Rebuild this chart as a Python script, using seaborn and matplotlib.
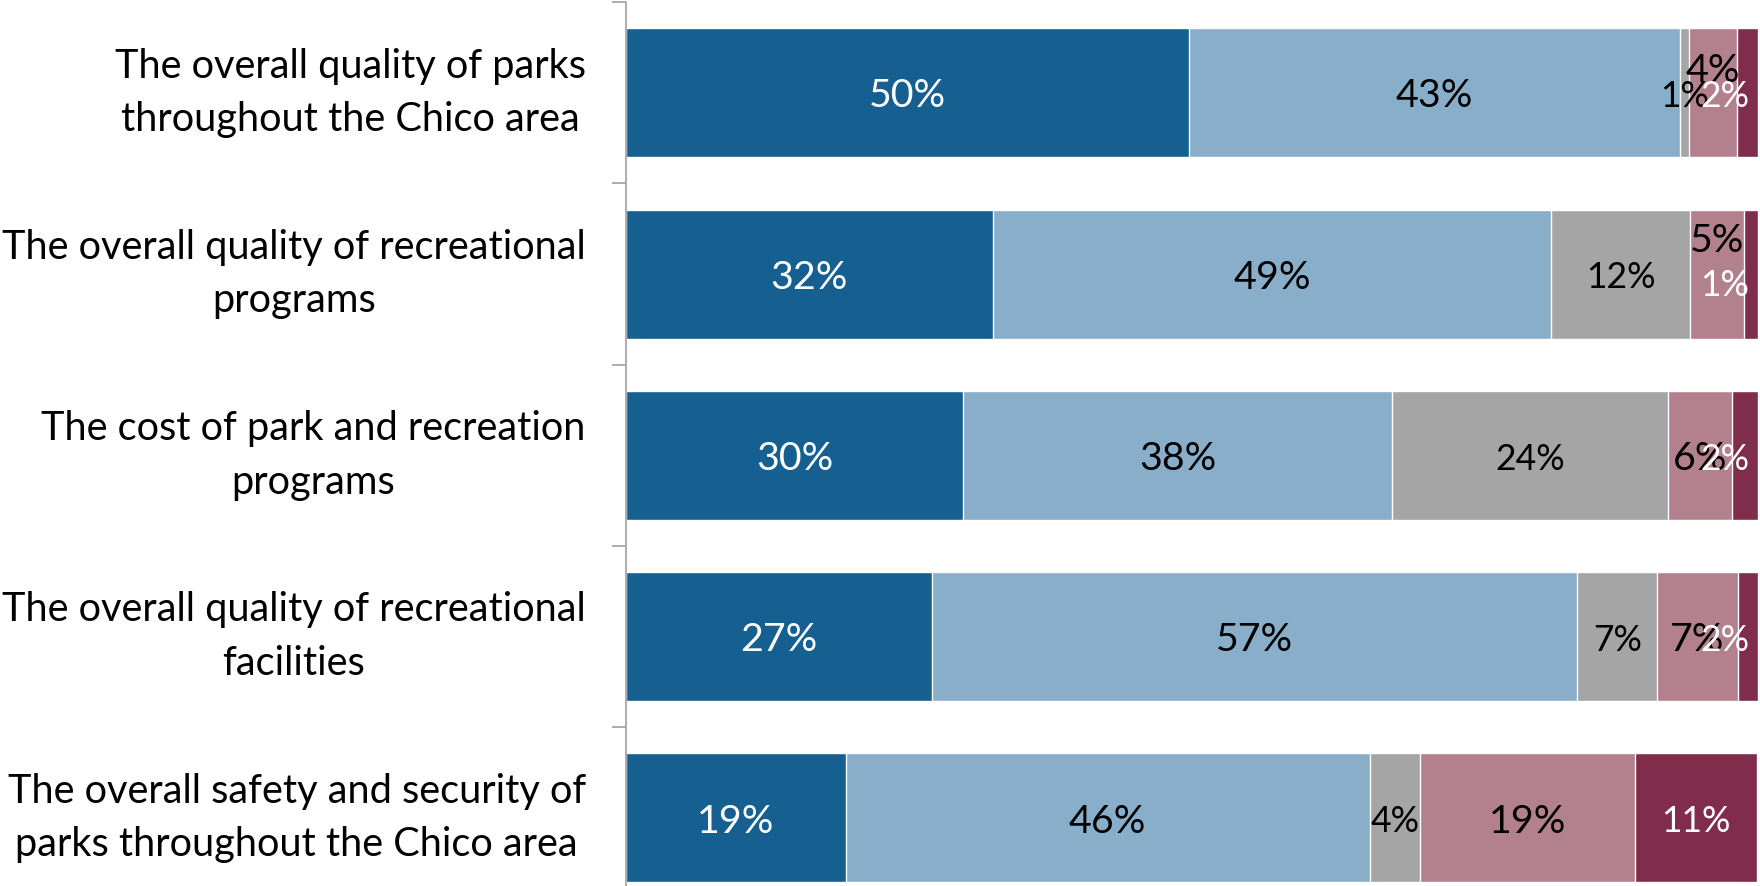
# Satisfaction with parks & recreation - 100% stacked horizontal bars

import numpy as np
import pandas as pd
import matplotlib
matplotlib.use("Agg")
import matplotlib.pyplot as plt
import seaborn as sns

# ==========================================
# DATA
# ==========================================

categories = [
    "The overall quality of parks\nthroughout the Chico area",
    "The overall quality of recreational\nprograms",
    "The cost of park and recreation\nprograms",
    "The overall quality of recreational\nfacilities",
    "The overall safety and security of\nparks throughout the Chico area",
]

very_satisfied = [49.7, 32.4, 29.8, 27.0, 19.4]
satisfied = [43.4, 49.3, 37.9, 57.0, 46.3]
neutral = [0.8, 12.3, 24.3, 7.1, 4.4]
dissatisfied = [4.2, 4.8, 5.7, 7.1, 19.0]
very_dissatisfied = [1.9, 1.2, 2.3, 1.8, 10.8]

series = [very_satisfied, satisfied, neutral, dissatisfied, very_dissatisfied]

# ==========================================
# STYLE
# ==========================================

colors = ["#156091", "#88AECA", "#A5A5A5", "#B3808E", "#802D4B"]
label_colors = ["white", "black", "black", "black", "white"]
label_sizes = [28.4, 28.4, 25.6, 28.4, 25.6]

# manual vertical nudges of a few crowded labels (row, series) -> y units
nudges = {(0, 3): -0.14, (1, 3): -0.20, (1, 4): 0.04}

sns.set_theme(style="white")
plt.rcParams["font.family"] = ["Lato", "DejaVu Sans"]

fig = plt.figure(figsize=(17.6, 8.86), dpi=100)
ax = fig.add_axes([0.3557, -0.0255, 0.6432, 1.023])

# ==========================================
# STACKED BARS (draw cumulative totals back to front)
# ==========================================

values = np.array(series)
cum = np.cumsum(values, axis=0)
left = cum - values

for i in reversed(range(len(series))):
    df = pd.DataFrame({"category": categories, "right": cum[i]})
    sns.barplot(
        data=df,
        x="right",
        y="category",
        color=colors[i],
        saturation=1,
        width=0.712,
        ax=ax,
    )

ax.set_xlim(0, 100)
ax.set_ylim(4.5, -0.5)

# ==========================================
# DATA LABELS
# ==========================================

texts = []
for i in range(len(series)):
    for r in range(len(categories)):
        v = values[i, r]
        t = ax.text(
            left[i, r] + v / 2,
            r + 0.02 + nudges.get((r, i), 0),
            f"{round(v)}%",
            ha="center",
            va="center",
            color=label_colors[i],
            fontsize=label_sizes[i],
        )
        texts.append(t)

# keep labels inside the plot area (like Excel does)
fig.canvas.draw()
renderer = fig.canvas.get_renderer()
right_px = ax.transData.transform((99.2, 0))[0]
for t in texts:
    bb = t.get_window_extent(renderer)
    if bb.x1 > right_px:
        x, y = t.get_position()
        shift = ax.transData.inverted().transform((bb.x1, 0))[0] - 99.2
        t.set_position((x - shift, y))

# ==========================================
# AXES
# ==========================================

for side in ["top", "right", "bottom"]:
    ax.spines[side].set_visible(False)
ax.spines["left"].set_color("#A6A6A6")
ax.spines["left"].set_linewidth(1.3)

ax.set_xlabel("")
ax.set_ylabel("")
ax.set_xticks([])

ax.set_yticks(range(len(categories)))
ax.set_yticklabels(categories, fontsize=28.6, color="black")
for lab in ax.get_yticklabels():
    lab.set_multialignment("center")
    lab.set_linespacing(1.55)
    lab.set_verticalalignment("center")
ax.tick_params(axis="y", which="major", length=0, pad=29)

ax.set_yticks(np.arange(len(categories)) - 0.5, minor=True)
ax.tick_params(axis="y", which="minor", length=10, width=1.3,
               color="#A6A6A6", direction="out", left=True)

fig.savefig("out.png", dpi=100)
